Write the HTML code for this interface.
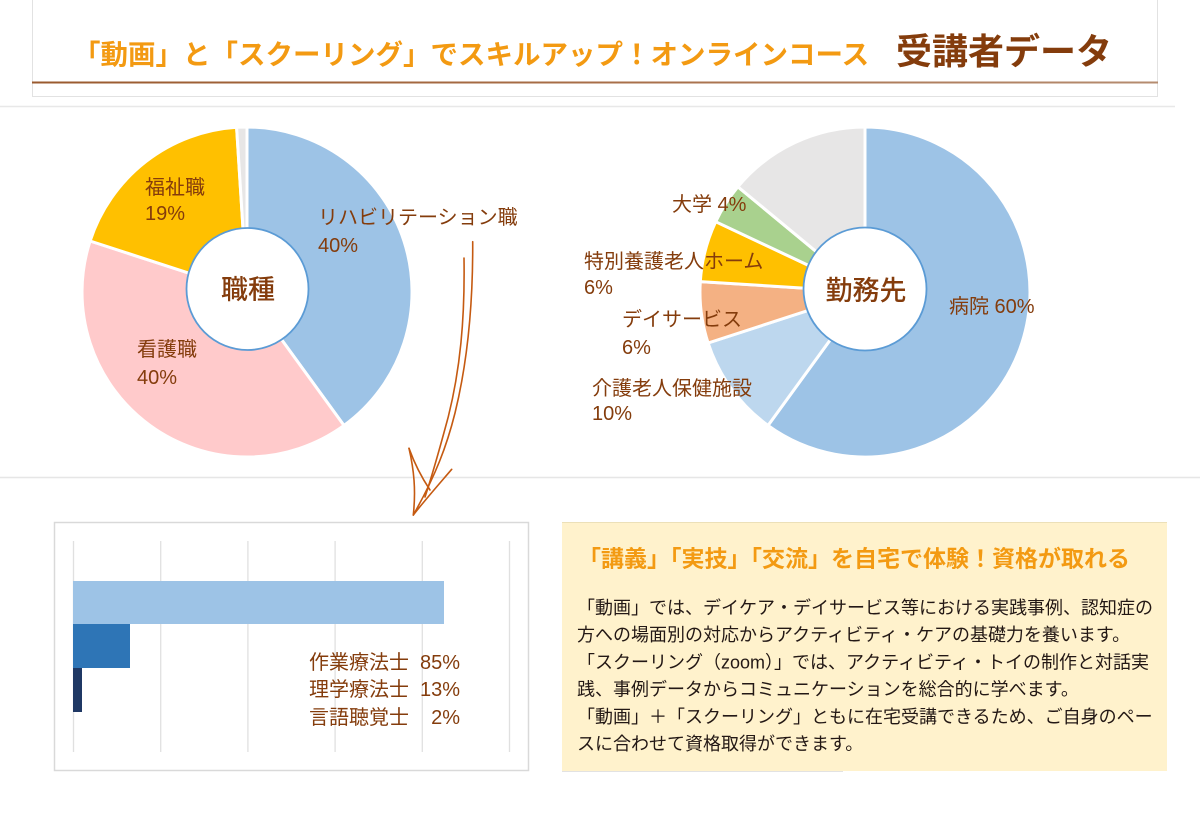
<!DOCTYPE html>
<html lang="ja">
<head>
<meta charset="utf-8">
<style>
  html, body { margin: 0; padding: 0; background: #ffffff; }
  body { width: 1200px; height: 818px; overflow: hidden; }
  svg { display: block; }
  text { font-family: "Liberation Sans", "Noto Sans CJK JP", sans-serif; }
  .lbl { font-size: 20px; fill: #843c0c; }
  .ctr { font-size: 27px; fill: #843c0c; font-weight: 500; }
  .body { font-size: 18px; fill: #231815; }
</style>
</head>
<body>
<svg width="1200" height="818" viewBox="0 0 1200 818" xmlns="http://www.w3.org/2000/svg">
  <defs>
    <linearGradient id="hl" gradientUnits="userSpaceOnUse" x1="32" y1="0" x2="1158" y2="0">
      <stop offset="0" stop-color="#9a5a2e"/>
      <stop offset="0.5" stop-color="#a86e48"/>
      <stop offset="1" stop-color="#b58c70"/>
    </linearGradient>
  </defs>

  <!-- Header -->
  <rect x="32.5" y="-2" width="1125" height="98.5" fill="#ffffff" stroke="#e2e2e2" stroke-width="1"/>
  <rect x="32" y="81.5" width="1126" height="2" fill="url(#hl)"/>
  <text x="73" y="64" style="font-size:27.5px;font-weight:700;fill:#f39a12;">「動画」と「スクーリング」でスキルアップ！オンラインコース</text>
  <text x="896" y="64" style="font-size:36px;font-weight:700;fill:#843c0c;">受講者データ</text>

  <line x1="0" y1="106.5" x2="1175" y2="106.5" stroke="#e8e8e8" stroke-width="1.5"/>
  <line x1="0" y1="477.5" x2="1200" y2="477.5" stroke="#e6e6e6" stroke-width="1.5"/>

  <!-- Pie 1: 職種 -->
  <g stroke="#ffffff" stroke-width="3" stroke-linejoin="round">
    <path d="M247,292 L247,127 A165,165 0 0 1 344.0,425.5 Z" fill="#9dc3e6"/>
    <path d="M247,292 L344.0,425.5 A165,165 0 0 1 90.1,241.0 Z" fill="#ffcacb"/>
    <path d="M247,292 L90.1,241.0 A165,165 0 0 1 236.6,127.3 Z" fill="#ffc000"/>
    <path d="M247,292 L236.6,127.3 A165,165 0 0 1 247,127 Z" fill="#e7e6e6"/>
  </g>
  <circle cx="247.5" cy="289" r="61" fill="#ffffff" stroke="#5b9bd5" stroke-width="1.8"/>
  <text class="ctr" x="248" y="299" text-anchor="middle">職種</text>
  <text class="lbl" x="318" y="224">リハビリテーション職</text>
  <text class="lbl" x="318" y="252">40%</text>
  <text class="lbl" x="145" y="194">福祉職</text>
  <text class="lbl" x="145" y="220">19%</text>
  <text class="lbl" x="137" y="356">看護職</text>
  <text class="lbl" x="137" y="384">40%</text>

  <!-- Pie 2: 勤務先 -->
  <g stroke="#ffffff" stroke-width="3" stroke-linejoin="round">
    <path d="M865,292 L865,127 A165,165 0 1 1 768.0,425.5 Z" fill="#9dc3e6"/>
    <path d="M865,292 L768.0,425.5 A165,165 0 0 1 708.1,343.0 Z" fill="#bdd7ee"/>
    <path d="M865,292 L708.1,343.0 A165,165 0 0 1 700.3,281.6 Z" fill="#f4b183"/>
    <path d="M865,292 L700.3,281.6 A165,165 0 0 1 715.7,221.7 Z" fill="#ffc000"/>
    <path d="M865,292 L715.7,221.7 A165,165 0 0 1 737.9,186.8 Z" fill="#a9d18e"/>
    <path d="M865,292 L737.9,186.8 A165,165 0 0 1 865,127 Z" fill="#e7e6e6"/>
  </g>
  <circle cx="865" cy="289" r="61.5" fill="#ffffff" stroke="#5b9bd5" stroke-width="1.8"/>
  <text class="ctr" x="866" y="300" text-anchor="middle">勤務先</text>
  <text class="lbl" x="672" y="211">大学 4%</text>
  <text class="lbl" x="584" y="268">特別養護老人ホーム</text>
  <text class="lbl" x="584" y="294">6%</text>
  <text class="lbl" x="622" y="326">デイサービス</text>
  <text class="lbl" x="622" y="354">6%</text>
  <text class="lbl" x="592" y="395">介護老人保健施設</text>
  <text class="lbl" x="592" y="420">10%</text>
  <text class="lbl" x="949" y="313">病院 60%</text>

  <!-- Hand-drawn arrow -->
  <g fill="none" stroke="#c55a11" stroke-width="1.6" stroke-linecap="round" stroke-linejoin="round">
    <path d="M472.7,241.7 C473,300 468,360 455,413 C447,445 436,475 413.3,515"/>
    <path d="M464,258 C465,320 460,370 448.3,416.7 C442,440 434,470 425,497"/>
    <path d="M409,448.3 C414,470 416,490 413.3,515"/>
    <path d="M409,448.3 C415,465 422,478 430,490"/>
    <path d="M413.3,515 C425,500 440,483 451.7,469.3"/>
  </g>

  <!-- Bar chart -->
  <rect x="54.5" y="522.5" width="474" height="248" fill="#ffffff" stroke="#d9d9d9" stroke-width="1.5"/>
  <g stroke="#e0e0e0" stroke-width="1.3">
    <line x1="73.5" y1="541" x2="73.5" y2="752"/>
    <line x1="160.7" y1="541" x2="160.7" y2="752"/>
    <line x1="247.9" y1="541" x2="247.9" y2="752"/>
    <line x1="335.1" y1="541" x2="335.1" y2="752"/>
    <line x1="422.3" y1="541" x2="422.3" y2="752"/>
    <line x1="509.5" y1="541" x2="509.5" y2="752"/>
  </g>
  <rect x="73" y="581" width="371" height="43" fill="#9dc3e6"/>
  <rect x="73" y="624" width="57" height="44" fill="#2e75b6"/>
  <rect x="73" y="668" width="9" height="44" fill="#1f3864"/>
  <text class="lbl" x="309" y="669">作業療法士</text>
  <text class="lbl" x="460" y="669" text-anchor="end">85%</text>
  <text class="lbl" x="309" y="696">理学療法士</text>
  <text class="lbl" x="460" y="696" text-anchor="end">13%</text>
  <text class="lbl" x="309" y="724">言語聴覚士</text>
  <text class="lbl" x="460" y="724" text-anchor="end">2%</text>

  <!-- Info box -->
  <rect x="562" y="522" width="605" height="249" fill="#fff2cc"/>
  <line x1="562" y1="522.5" x2="1167" y2="522.5" stroke="#ece0b8" stroke-width="1"/>
  <line x1="562" y1="771.5" x2="843" y2="771.5" stroke="#e2e2e2" stroke-width="1"/>
  <text x="578" y="566.5" style="font-size:23px;font-weight:700;fill:#f39a12;">「講義」「実技」「交流」を自宅で体験！資格が取れる</text>
  <text class="body" x="577" y="614">「動画」では、デイケア・デイサービス等における実践事例、認知症の</text>
  <text class="body" x="577" y="641">方への場面別の対応からアクティビティ・ケアの基礎力を養います。</text>
  <text class="body" x="577" y="668.5">「スクーリング（zoom）」では、アクティビティ・トイの制作と対話実</text>
  <text class="body" x="577" y="695.5">践、事例データからコミュニケーションを総合的に学べます。</text>
  <text class="body" x="577" y="723">「動画」＋「スクーリング」ともに在宅受講できるため、ご自身のペー</text>
  <text class="body" x="577" y="750">スに合わせて資格取得ができます。</text>
</svg>
</body>
</html>
